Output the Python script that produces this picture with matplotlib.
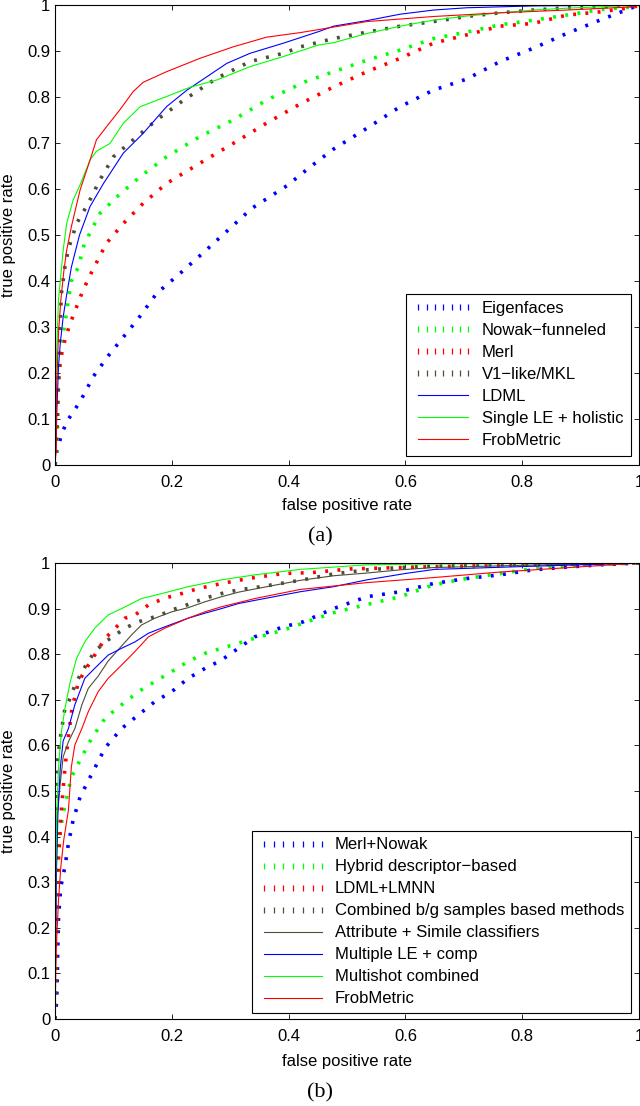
import matplotlib
matplotlib.use('Agg')
import matplotlib.pyplot as plt
from matplotlib.lines import Line2D

plt.rcParams['font.family'] = ['Liberation Sans', 'DejaVu Sans']

# ---- panel (a) ----
eig_x = [0, 0.003, 0.011, 0.02, 0.043, 0.066, 0.091, 0.117, 0.143, 0.174, 0.211, 0.257, 0.337, 0.397,
         0.437, 0.476, 0.534, 0.591, 0.648, 0.705, 0.762, 0.819, 0.876, 0.933, 0.99, 1]
eig_y = [0, 0.03, 0.065, 0.094, 0.138, 0.193, 0.237, 0.278, 0.319, 0.373, 0.413, 0.465, 0.558, 0.607,
         0.648, 0.686, 0.732, 0.779, 0.815, 0.839, 0.877, 0.906, 0.938, 0.967, 0.995, 1]

nowak_x = [0, 0.003, 0.006, 0.01, 0.017, 0.023, 0.028, 0.04, 0.05, 0.077, 0.106, 0.146, 0.191, 0.248,
           0.305, 0.362, 0.428, 0.477, 0.534, 0.591, 0.648, 0.705, 0.762, 0.819, 0.876, 0.933, 0.99, 1]
nowak_y = [0, 0.018, 0.178, 0.25, 0.308, 0.359, 0.40, 0.43, 0.48, 0.547, 0.583, 0.627, 0.670, 0.714,
           0.75, 0.793, 0.833, 0.855, 0.88, 0.902, 0.927, 0.941, 0.957, 0.967, 0.978, 0.99, 0.996, 1]

merl_x = [0, 0.002, 0.006, 0.009, 0.017, 0.026, 0.034, 0.048, 0.063, 0.088, 0.117, 0.151, 0.191, 0.248,
          0.305, 0.362, 0.42, 0.477, 0.534, 0.591, 0.648, 0.705, 0.762, 0.819, 0.876, 0.933, 0.99, 1]
merl_y = [0, 0.033, 0.178, 0.228, 0.272, 0.308, 0.334, 0.38, 0.42, 0.482, 0.525, 0.569, 0.612, 0.656,
          0.699, 0.743, 0.785, 0.822, 0.855, 0.884, 0.917, 0.935, 0.954, 0.96, 0.978, 0.985, 0.995, 1]

v1_x = [0, 0.003, 0.006, 0.009, 0.011, 0.017, 0.023, 0.037, 0.057, 0.077, 0.1, 0.134, 0.174, 0.22,
        0.277, 0.334, 0.391, 0.42, 0.477, 0.534, 0.591, 0.648, 0.705, 0.762, 0.819, 0.876, 0.96, 1]
v1_y = [0, 0.1, 0.22, 0.312, 0.373, 0.431, 0.47, 0.525, 0.569, 0.62, 0.67, 0.707, 0.75, 0.793,
        0.841, 0.877, 0.895, 0.909, 0.927, 0.941, 0.954, 0.964, 0.975, 0.983, 0.989, 0.994, 0.997, 1]

ldml_x = [0, 0.002, 0.003, 0.006, 0.009, 0.014, 0.02, 0.028, 0.042, 0.06, 0.083, 0.117, 0.151, 0.191,
          0.226, 0.26, 0.294, 0.334, 0.391, 0.451, 0.477, 0.534, 0.591, 0.648, 0.705, 0.819, 1]
ldml_y = [0, 0.05, 0.113, 0.214, 0.264, 0.322, 0.37, 0.43, 0.50, 0.562, 0.612, 0.678, 0.721, 0.779,
          0.815, 0.844, 0.873, 0.895, 0.917, 0.942, 0.954, 0.966, 0.98, 0.989, 0.994, 0.998, 1]

single_x = [0, 0.001, 0.003, 0.006, 0.009, 0.014, 0.02, 0.031, 0.043, 0.06, 0.071, 0.094, 0.117, 0.146,
            0.191, 0.231, 0.277, 0.334, 0.391, 0.451, 0.477, 0.534, 0.591, 0.648, 0.705, 0.762, 0.819,
            0.876, 0.933, 1]
single_y = [0, 0.156, 0.25, 0.36, 0.40, 0.467, 0.525, 0.576, 0.609, 0.663, 0.682, 0.699, 0.743, 0.779,
            0.801, 0.821, 0.837, 0.866, 0.888, 0.913, 0.918, 0.938, 0.954, 0.967, 0.976, 0.983, 0.989,
            0.993, 0.996, 1]

frob_a_x = [0, 0.002, 0.003, 0.006, 0.01, 0.015, 0.02, 0.028, 0.043, 0.06, 0.071, 0.088, 0.111, 0.134,
            0.151, 0.191, 0.248, 0.305, 0.362, 0.42, 0.534, 0.648, 0.762, 0.876, 0.99, 1]
frob_a_y = [0, 0.033, 0.178, 0.286, 0.359, 0.42, 0.467, 0.518, 0.598, 0.663, 0.707, 0.735, 0.772, 0.812,
            0.832, 0.855, 0.884, 0.909, 0.93, 0.94, 0.964, 0.975, 0.983, 0.989, 0.996, 1]

# ---- panel (b) ----
mn_x = [0, 0.003, 0.006, 0.01, 0.017, 0.023, 0.031, 0.043, 0.06, 0.086, 0.114, 0.143, 0.171, 0.2, 0.228,
        0.257, 0.285, 0.314, 0.342, 0.391, 0.425, 0.477, 0.534, 0.591, 0.648, 0.705, 0.762, 0.819, 0.876,
        0.933, 1]
mn_y = [0, 0.042, 0.224, 0.29, 0.334, 0.385, 0.436, 0.487, 0.53, 0.595, 0.637, 0.667, 0.696, 0.718, 0.747,
        0.769, 0.787, 0.813, 0.838, 0.86, 0.871, 0.9, 0.926, 0.937, 0.955, 0.966, 0.974, 0.985, 0.991,
        0.996, 1]

hyb_x = [0, 0.003, 0.006, 0.01, 0.017, 0.028, 0.043, 0.063, 0.086, 0.114, 0.143, 0.171, 0.2, 0.228, 0.257,
         0.285, 0.314, 0.342, 0.391, 0.42, 0.477, 0.534, 0.591, 0.648, 0.705, 0.762, 0.819, 0.876, 0.933, 1]
hyb_y = [0, 0.298, 0.371, 0.422, 0.469, 0.53, 0.568, 0.616, 0.66, 0.689, 0.718, 0.74, 0.762, 0.784, 0.802,
         0.813, 0.824, 0.835, 0.853, 0.866, 0.891, 0.909, 0.926, 0.952, 0.966, 0.977, 0.988, 0.993, 0.997, 1]

lmnn_x = [0, 0.003, 0.006, 0.011, 0.017, 0.023, 0.029, 0.04, 0.057, 0.068, 0.086, 0.103, 0.12, 0.137, 0.16,
          0.188, 0.217, 0.245, 0.285, 0.331, 0.391, 0.44, 0.505, 0.648, 0.8, 1]
lmnn_y = [0, 0.2, 0.35, 0.46, 0.55, 0.62, 0.68, 0.739, 0.776, 0.798, 0.835, 0.857, 0.879, 0.886, 0.908,
          0.923, 0.933, 0.944, 0.955, 0.966, 0.977, 0.979, 0.987, 0.992, 0.996, 1]

comb_x = [0, 0.002, 0.003, 0.009, 0.017, 0.026, 0.034, 0.046, 0.057, 0.068, 0.086, 0.103, 0.12, 0.137,
          0.154, 0.177, 0.2, 0.228, 0.257, 0.285, 0.314, 0.342, 0.391, 0.42, 0.477, 0.534, 0.591, 0.648,
          0.762, 1]
comb_y = [0, 0.3, 0.553, 0.616, 0.681, 0.703, 0.732, 0.761, 0.784, 0.806, 0.827, 0.842, 0.857, 0.868,
          0.876, 0.884, 0.897, 0.909, 0.923, 0.933, 0.941, 0.946, 0.956, 0.962, 0.976, 0.985, 0.99, 0.993,
          0.996, 1]

attr_x = [0, 0.002, 0.004, 0.009, 0.014, 0.023, 0.034, 0.046, 0.057, 0.074, 0.091, 0.114, 0.131, 0.148,
          0.171, 0.2, 0.228, 0.257, 0.285, 0.314, 0.342, 0.42, 0.477, 0.534, 0.591, 0.648, 0.8, 1]
attr_y = [0, 0.3, 0.45, 0.517, 0.575, 0.608, 0.637, 0.689, 0.725, 0.752, 0.785, 0.818, 0.842, 0.864,
          0.879, 0.893, 0.902, 0.915, 0.926, 0.936, 0.943, 0.962, 0.972, 0.978, 0.985, 0.99, 0.995, 1]

mle_x = [0, 0.002, 0.005, 0.009, 0.014, 0.023, 0.034, 0.051, 0.068, 0.091, 0.114, 0.137, 0.16, 0.188,
         0.228, 0.257, 0.285, 0.314, 0.342, 0.42, 0.477, 0.534, 0.6, 0.65, 0.82, 1]
mle_y = [0, 0.3, 0.45, 0.55, 0.61, 0.637, 0.689, 0.747, 0.769, 0.798, 0.813, 0.827, 0.846, 0.86,
         0.879, 0.89, 0.9, 0.911, 0.918, 0.937, 0.948, 0.963, 0.977, 0.986, 0.993, 1]

multi_x = [0, 0.001, 0.003, 0.006, 0.009, 0.011, 0.017, 0.026, 0.037, 0.051, 0.068, 0.091, 0.114, 0.148,
           0.183, 0.228, 0.285, 0.342, 0.42, 0.534, 0.65, 1]
multi_y = [0, 0.3, 0.45, 0.55, 0.601, 0.63, 0.681, 0.739, 0.791, 0.827, 0.857, 0.886, 0.9, 0.922,
           0.933, 0.948, 0.963, 0.974, 0.986, 0.996, 0.998, 1]

frob_b_x = [0, 0.002, 0.006, 0.01, 0.015, 0.023, 0.028, 0.034, 0.046, 0.057, 0.074, 0.091, 0.114, 0.137,
            0.16, 0.188, 0.228, 0.257, 0.285, 0.32, 0.342, 0.42, 0.534, 0.648, 0.76, 0.88, 1]
frob_b_y = [0, 0.15, 0.261, 0.334, 0.393, 0.458, 0.553, 0.601, 0.637, 0.674, 0.718, 0.747, 0.776, 0.806,
            0.838, 0.857, 0.879, 0.893, 0.904, 0.915, 0.922, 0.942, 0.957, 0.968, 0.98, 0.99, 1]

BLUE, GREEN, RED, DARK = '#0000ff', '#00ff00', '#ff0000', '#4d4d38'

curves_a = [
    (eig_x, eig_y, BLUE, 'dot', 'Eigenfaces'),
    (nowak_x, nowak_y, GREEN, 'dot', 'Nowak\u2212funneled'),
    (merl_x, merl_y, RED, 'dot', 'Merl'),
    (v1_x, v1_y, DARK, 'dot', 'V1\u2212like/MKL'),
    (ldml_x, ldml_y, BLUE, 'solid', 'LDML'),
    (single_x, single_y, GREEN, 'solid', 'Single LE + holistic'),
    (frob_a_x, frob_a_y, RED, 'solid', 'FrobMetric'),
]
curves_b = [
    (mn_x, mn_y, BLUE, 'dot', 'Merl+Nowak'),
    (hyb_x, hyb_y, GREEN, 'dot', 'Hybrid descriptor\u2212based'),
    (lmnn_x, lmnn_y, RED, 'dot', 'LDML+LMNN'),
    (comb_x, comb_y, DARK, 'dot', 'Combined b/g samples based methods'),
    (attr_x, attr_y, DARK, 'solid', 'Attribute + Simile classifiers'),
    (mle_x, mle_y, BLUE, 'solid', 'Multiple LE + comp'),
    (multi_x, multi_y, GREEN, 'solid', 'Multishot combined'),
    (frob_b_x, frob_b_y, RED, 'solid', 'FrobMetric'),
]

FS = 12

fig = plt.figure(figsize=(6.4, 11.06), dpi=100)
ax_a = fig.add_axes([55 / 640, (1106 - 465) / 1106, 584 / 640, 460 / 1106])
ax_b = fig.add_axes([55 / 640, (1106 - 1019) / 1106, 584 / 640, 456 / 1106])


def draw(ax, curves, leg_anchor, hlen, lspace, bpad, tpad):
    handles = []
    for x, y, c, kind, name in curves:
        if kind == 'dot':
            ax.plot(x, y, color=c, lw=2.6, linestyle=(0, (0.8, 2.6)))
            handles.append(Line2D([], [], linestyle='none', marker='|', markersize=4.5,
                                  markeredgewidth=0.9, color=c, label=name))
        else:
            ax.plot(x, y, color=c, lw=0.8)
            handles.append(Line2D([], [], color=c, lw=0.8, label=name))
    ax.set_xlim(0, 1)
    ax.set_ylim(0, 1)
    ax.set_xticks([0, 0.2, 0.4, 0.6, 0.8, 1])
    ax.set_xticklabels(['0', '0.2', '0.4', '0.6', '0.8', '1'])
    ax.set_yticks([i / 10 for i in range(11)])
    ax.set_yticklabels(['0'] + ['0.%d' % i for i in range(1, 10)] + ['1'])
    ax.tick_params(direction='in', top=True, right=True, length=3.6, width=0.6,
                   labelsize=FS)
    ax.tick_params(axis='x', pad=7)
    ax.tick_params(axis='y', pad=3.5)
    for s in ax.spines.values():
        s.set_linewidth(0.8)
    ax.set_xlabel('false positive rate', fontsize=FS)
    ax.set_ylabel('true positive rate', fontsize=FS)
    ax.yaxis.set_label_coords(-0.066, 0.5)
    leg = ax.legend(handles=handles, loc='lower right', bbox_to_anchor=leg_anchor,
                    fontsize=FS, numpoints=7, handlelength=hlen, handletextpad=tpad,
                    labelspacing=lspace, borderpad=bpad, borderaxespad=0,
                    fancybox=False, framealpha=1, edgecolor='black')
    leg.get_frame().set_linewidth(0.8)
    return leg


draw(ax_a, curves_a, (0.986, 0.02), 3.6, 0.42, 0.45, 0.5)
draw(ax_b, curves_b, (0.986, 0.013), 4.1, 0.42, 0.4, 0.45)
ax_a.xaxis.set_label_coords(0.5, -0.071)
ax_b.xaxis.set_label_coords(0.5, -0.076)

fig.text(320 / 640, 1 - 537 / 1106, '(a)', ha='center', va='center', fontsize=16,
         family='Liberation Serif')
fig.text(320 / 640, 1 - 1093 / 1106, '(b)', ha='center', va='center', fontsize=16,
         family='Liberation Serif')

fig.savefig('out.png', dpi=100)
